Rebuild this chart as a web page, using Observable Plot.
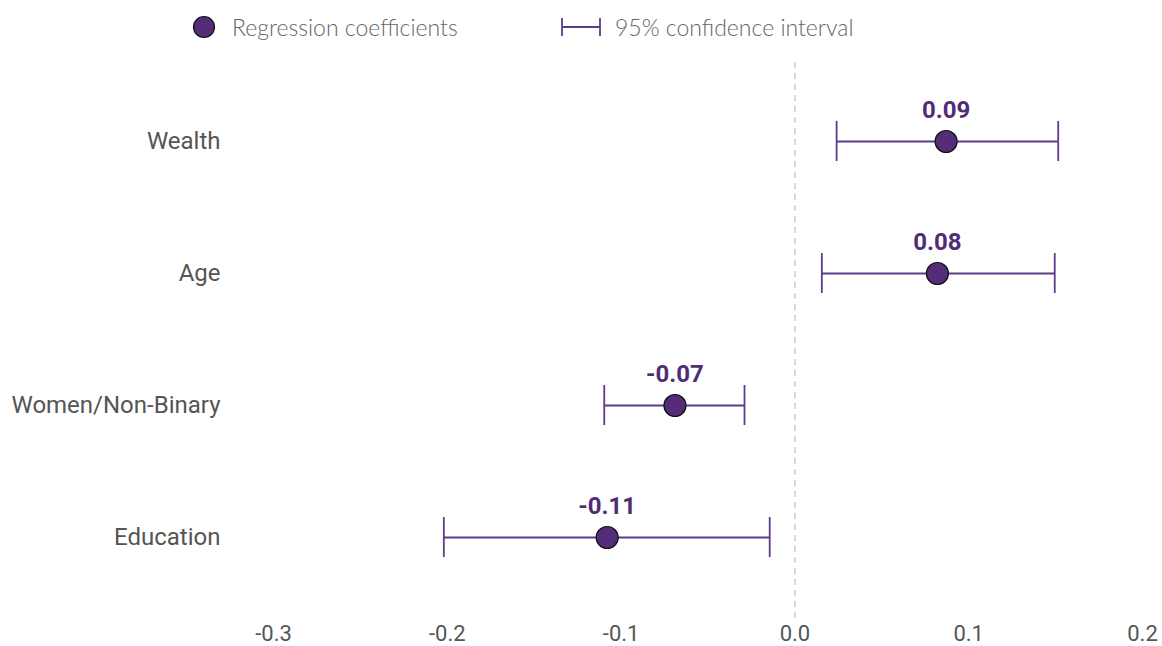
<!DOCTYPE html>
<html>
<head>
<meta charset="utf-8">
<script src="https://cdn.jsdelivr.net/npm/d3@7"></script>
<script src="https://cdn.jsdelivr.net/npm/@observablehq/plot@0.6"></script>
<style>
  html, body { margin: 0; padding: 0; background: #fff; }
  #legend { position: relative; height: 55px; font-family: Lato, "Open Sans", sans-serif; font-weight: 300; font-size: 23px; color: #666; }
  #legend .item { position: absolute; top: 14px; display: flex; align-items: center; height: 26px; }
  #chart svg { display: block; }
</style>
</head>
<body>
<div id="legend">
  <div class="item" style="left:192px;">
    <svg width="26" height="26"><circle cx="12" cy="13" r="10.5" fill="#542c77" stroke="#111" stroke-width="1.2"/></svg>
    <span style="margin-left:14px;">Regression coefficients</span>
  </div>
  <div class="item" style="left:560px;">
    <svg width="44" height="26"><line x1="2" x2="40" y1="13" y2="13" stroke="#5c3a8c" stroke-width="1.8"/><line x1="2" x2="2" y1="4" y2="22" stroke="#5c3a8c" stroke-width="1.8"/><line x1="40" x2="40" y1="4" y2="22" stroke="#5c3a8c" stroke-width="1.8"/></svg>
    <span style="margin-left:11px;">95% confidence interval</span>
  </div>
</div>
<div id="chart"></div>
<script>
const variables = ["Wealth", "Age", "Women/Non-Binary", "Education"];
const coefficients = [0.087, 0.082, -0.069, -0.108];
const ciLow = [0.024, 0.0155, -0.1097, -0.202];
const ciHigh = [0.1515, 0.1495, -0.029, -0.0145];
const valueLabels = ["0.09", "0.08", "-0.07", "-0.11"];
const xTicks = [-0.3, -0.2, -0.1, 0.0, 0.1, 0.2];

const data = variables.map((v, i) => ({
  variable: v, coef: coefficients[i], lo: ciLow[i], hi: ciHigh[i], label: valueLabels[i]
}));

const purple = "#5c3a8c";
const fill = "#542c77";
const fmt = d => d.toFixed(1);

const chart = Plot.plot({
  width: 1162,
  height: 591,
  marginLeft: 273,
  marginRight: 20,
  marginTop: 19,
  marginBottom: 43,
  style: { fontFamily: "Roboto, sans-serif", background: "#fff" },
  x: { domain: [-0.3, 0.2], ticks: xTicks, tickFormat: fmt, label: null },
  y: { domain: variables, padding: 0, label: null },
  marks: [
    Plot.ruleX([0], { stroke: "#cccccc", strokeWidth: 1.5, strokeDasharray: "6,5", insetTop: -12, insetBottom: -17 }),
    Plot.ruleY(data, { y: "variable", x1: "lo", x2: "hi", stroke: purple, strokeWidth: 1.8 }),
    Plot.tickX(data, { x: "lo", y: "variable", stroke: purple, strokeWidth: 1.8, insetTop: 46, insetBottom: 46 }),
    Plot.tickX(data, { x: "hi", y: "variable", stroke: purple, strokeWidth: 1.8, insetTop: 46, insetBottom: 46 }),
    Plot.dot(data, { x: "coef", y: "variable", r: 11, fill: fill, stroke: "#111", strokeWidth: 1.2 }),
    Plot.text(data, { x: "coef", y: "variable", text: "label", dy: -31, fill: "#4f2d74", fontSize: 24, fontWeight: "bold", fontFamily: "Roboto, sans-serif" }),
    Plot.axisY({ tickSize: 0, tickPadding: 53, fontSize: 24, color: "#555", label: null }),
    Plot.axisX({ ticks: xTicks, tickFormat: fmt, tickSize: 0, tickPadding: 22, fontSize: 22, color: "#555", label: null })
  ]
});
document.getElementById("chart").appendChild(chart);
</script>
</body>
</html>
